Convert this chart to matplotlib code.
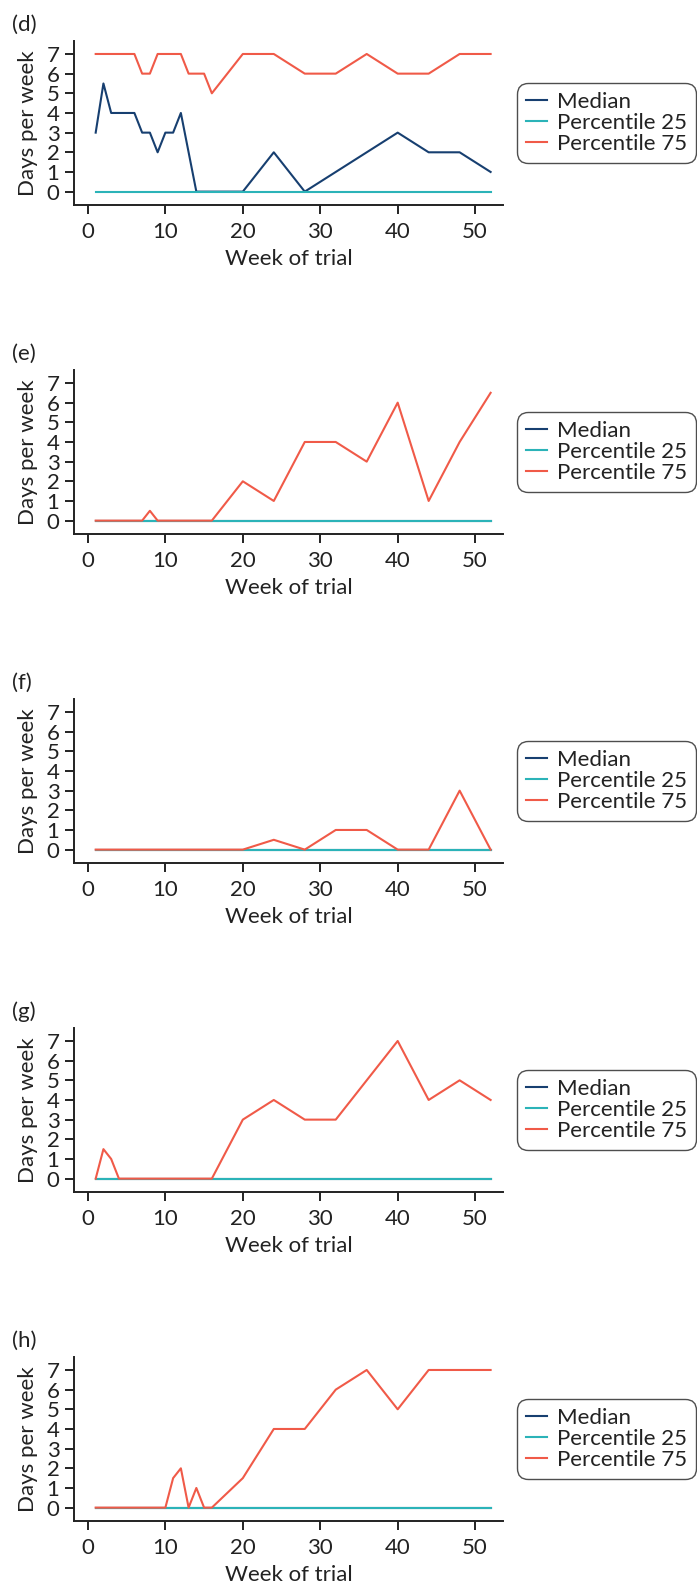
import matplotlib
matplotlib.use("Agg")
import matplotlib.pyplot as plt

plt.rcParams['font.family'] = ['Lato', 'DejaVu Sans']

# weeks of trial measured
weeks = [1, 2, 3, 4, 5, 6, 7, 8, 9, 10, 11, 12, 13, 14, 15, 16,
         20, 24, 28, 32, 36, 40, 44, 48, 52]
zeros = [0] * len(weeks)

panel_labels = ["(d)", "(e)", "(f)", "(g)", "(h)"]

median_d = [3, 5.5, 4, 4, 4, 4, 3, 3, 2, 3, 3, 4, 2, 0, 0, 0,
            0, 2, 0, 1, 2, 3, 2, 2, 1]
p75_d = [7, 7, 7, 7, 7, 7, 6, 6, 7, 7, 7, 7, 6, 6, 6, 5,
         7, 7, 6, 6, 7, 6, 6, 7, 7]

p75_e = [0, 0, 0, 0, 0, 0, 0, 0.5, 0, 0, 0, 0, 0, 0, 0, 0,
         2, 1, 4, 4, 3, 6, 1, 4, 6.5]

p75_f = [0, 0, 0, 0, 0, 0, 0, 0, 0, 0, 0, 0, 0, 0, 0, 0,
         0, 0.5, 0, 1, 1, 0, 0, 3, 0]

p75_g = [0, 1.5, 1, 0, 0, 0, 0, 0, 0, 0, 0, 0, 0, 0, 0, 0,
         3, 4, 3, 3, 5, 7, 4, 5, 4]

p75_h = [0, 0, 0, 0, 0, 0, 0, 0, 0, 0, 1.5, 2, 0, 1, 0, 0,
         1.5, 4, 4, 6, 7, 5, 7, 7, 7]

medians = [median_d, zeros, zeros, zeros, zeros]
p25s = [zeros, zeros, zeros, zeros, zeros]
p75s = [p75_d, p75_e, p75_f, p75_g, p75_h]

c_med = "#173f70"
c_p25 = "#2bb3b8"
c_p75 = "#f05a48"
dark = "#222222"

W, H = 697, 1584
fig = plt.figure(figsize=(W / 100, H / 100), dpi=100)

for i in range(5):
    top = 41 + 329 * i
    bot = 205 + 329 * i
    ax = fig.add_axes([74 / W, 1 - bot / H, (503 - 74) / W, (bot - top) / H])
    ax.plot(weeks, medians[i], color=c_med, lw=1.5, label="Median")
    ax.plot(weeks, p25s[i], color=c_p25, lw=1.5, label="Percentile 25")
    ax.plot(weeks, p75s[i], color=c_p75, lw=1.5, label="Percentile 75")

    ax.set_xlim(-1.8, 53.6)
    ax.set_ylim(-0.68, 7.66)
    ax.set_xticks([0, 10, 20, 30, 40, 50])
    ax.set_yticks(range(8))
    ax.spines['top'].set_visible(False)
    ax.spines['right'].set_visible(False)
    for s in ['left', 'bottom']:
        ax.spines[s].set_color(dark)
        ax.spines[s].set_linewidth(1.4)
    ax.tick_params(labelsize=16, length=6.5, width=1.4, color=dark,
                   labelcolor=dark, pad=4)
    ax.tick_params(axis='x', pad=6)
    ax.set_xlabel("Week of trial", fontsize=16, color=dark, labelpad=5)
    ax.set_ylabel("Days per week", fontsize=16, color=dark, labelpad=6)

    leg = ax.legend(loc="center left", bbox_to_anchor=(1.033, 0.5),
                    fontsize=16, frameon=True, fancybox=True,
                    handlelength=0.95, handletextpad=0.45, labelspacing=0.05,
                    borderpad=0.4, borderaxespad=0)
    fr = leg.get_frame()
    fr.set_edgecolor(dark)
    fr.set_linewidth(1.0)
    fr.set_boxstyle("round,pad=0,rounding_size=0.5")
    for t in leg.get_texts():
        t.set_color(dark)

    fig.text(12 / W, 1 - (25 + 329 * i) / H, panel_labels[i], fontsize=16,
             color=dark, va="center", ha="left")

fig.savefig("out.png", dpi=100)
